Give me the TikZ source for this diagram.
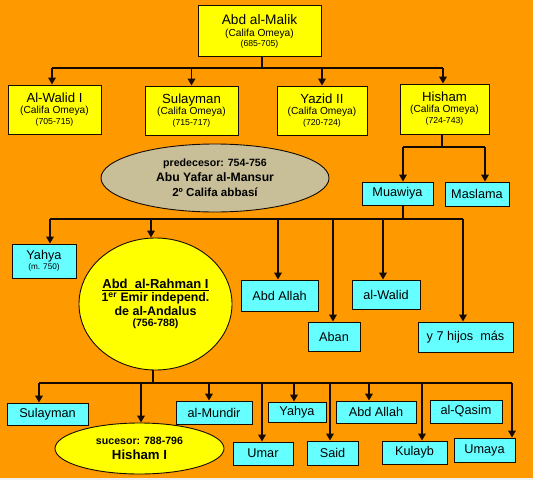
\documentclass[tikz,border=0pt]{standalone}
\usepackage{fontspec}
\setmainfont{Liberation Sans}
\usetikzlibrary{arrows.meta,shapes.geometric}
\definecolor{bgorange}{RGB}{255,153,0}
\definecolor{yel}{RGB}{255,255,0}
\definecolor{cyanc}{RGB}{102,255,255}
\definecolor{tanc}{RGB}{200,190,152}
\definecolor{linec}{RGB}{20,10,0}
\newcommand\fsz[1]{\fontsize{#1}{#1}\selectfont}
\newcommand\stk[2]{\vbox{\baselineskip=#1\lineskiplimit=-100pt\halign{\hfil##\hfil\cr#2\crcr}}}
\begin{document}
\begin{tikzpicture}[x=1pt,y=-1pt,
  ybox/.style={draw=linec,fill=yel,line width=0.9pt,inner sep=1pt},
  cbox/.style={draw=linec,fill=cyanc,line width=0.9pt,inner sep=1pt,font=\fsz{12.7}},
  ell/.style={ellipse,draw=linec,line width=0.9pt,inner sep=0pt,font=\bfseries},
  conn/.style={draw=linec,line width=1.9pt},
  arr/.style={conn,-{Triangle[length=7pt,width=7.5pt]}}]
\useasboundingbox (0,0) rectangle (533,480);
\fill[bgorange] (0,0) rectangle (533,480);
\fill[black!6] (0,478) rectangle (533,480);

% level 0 / 1
\node[ybox,minimum width=123pt,minimum height=51pt] (malik) at (259.5,31)
  {\stk{12pt}{\fsz{13.7}Abd al-Malik\cr\fsz{10.2}(Califa Omeya)\cr\noalign{\vskip-2pt}\fsz{8.7}(685-705)}};
\node[ybox,minimum width=93pt,minimum height=49pt] (walid) at (54.5,109.5)
  {\stk{11pt}{\fsz{13.2}Al-Walid I\cr\fsz{10.2}(Califa Omeya)\cr\fsz{8.7}(705-715)}};
\node[ybox,minimum width=93pt,minimum height=49pt] (sulay) at (191.5,110.5)
  {\stk{11pt}{\fsz{13.2}Sulayman\cr\fsz{10.2}(Califa Omeya)\cr\fsz{8.7}(715-717)}};
\node[ybox,minimum width=90pt,minimum height=49pt] (yazid) at (322,110.5)
  {\stk{11pt}{\fsz{13.2}Yazid II\cr\fsz{10.2}(Califa Omeya)\cr\fsz{8.7}(720-724)}};
\node[ybox,minimum width=89pt,minimum height=50pt] (hisham) at (444.5,109)
  {\stk{11pt}{\fsz{13.2}Hisham\cr\fsz{10.2}(Califa Omeya)\cr\fsz{8.7}(724-743)}};

\node[ell,fill=tanc,minimum width=228pt,minimum height=68pt] (pred) at (215,178)
  {\stk{15pt}{\fsz{10.6}predecesor: 754-756\cr\fsz{12.2}Abu Yafar al-Mansur\cr\fsz{11.6}2º Califa abbasí}};

\node[cbox,minimum width=71pt,minimum height=23pt] (mua) at (397.5,193.5) {Muawiya};
\node[cbox,minimum width=64pt,minimum height=24pt] (masl) at (477,194) {Maslama};

% level 3
\node[cbox,minimum width=64pt,minimum height=34pt] (yahya1) at (44,261)
  {\stk{10pt}{\fsz{12.7}Yahya\cr\fsz{8.2}(m. 750)}};
\node[ell,fill=yel,minimum width=153pt,minimum height=132pt] (rahman) at (155.5,304)
  {\stk{13.5pt}{\fsz{13}\underline{Abd\ \ al-Rahman I}\cr\fsz{12.3}1\textsuperscript{er} Emir independ.\cr\fsz{12.5}de al-Andalus\cr\noalign{\vskip-1.8pt}\fsz{10.6}(756-788)}};
\node[cbox,minimum width=77pt,minimum height=31pt] (abdallah1) at (279.5,295.5) {Abd Allah};
\node[cbox,minimum width=52pt,minimum height=29pt] (aban) at (334,336.5) {Aban};
\node[cbox,minimum width=68pt,minimum height=29pt] (walid2) at (386,294.5) {al-Walid};
\node[cbox,minimum width=95pt,minimum height=30pt] (hijos) at (465.5,337) {y 7 hijos\ \ más};

% level 4
\node[cbox,minimum width=81pt,minimum height=22pt] (sulay2) at (47.5,414) {Sulayman};
\node[ell,fill=yel,minimum width=169pt,minimum height=51pt] (hishamI) at (139.5,448.5)
  {\stk{14.5pt}{\fsz{10.6}sucesor: 788-796\cr\fsz{13.2}Hisham I}};
\node[cbox,minimum width=76pt,minimum height=23pt] (mundir) at (214,412.5) {al-Mundir};
\node[cbox,minimum width=60pt,minimum height=23pt] (umar) at (263,453.5) {Umar};
\node[cbox,minimum width=58pt,minimum height=20pt] (yahya2) at (297,412) {Yahya};
\node[cbox,minimum width=51pt,minimum height=24pt] (said) at (332.5,453) {Said};
\node[cbox,minimum width=80pt,minimum height=22pt] (abdallah2) at (376,412) {Abd Allah};
\node[cbox,minimum width=72pt,minimum height=23pt] (qasim) at (466,411.5) {al-Qasim};
\node[cbox,minimum width=65pt,minimum height=23pt] (kulayb) at (414.5,452.5) {Kulayb};
\node[cbox,minimum width=61pt,minimum height=24pt] (umaya) at (484.5,450) {Umaya};

% connectors: Abd al-Malik
\coordinate (b0) at (262,68);
\coordinate (b0L) at (52,68);
\coordinate (b0R) at (443,68);
\draw[conn] (b0 |- malik.south) -- (b0);
\draw[conn] (b0L) -- (b0R);
\draw[arr] (b0L) -- (b0L |- walid.north);
\draw[arr] (sulay.north |- b0) -- (sulay.north);
\draw[arr] (yazid.north |- b0) -- (yazid.north);
\draw[arr] (b0R) -- (b0R |- hisham.north);

% Hisham
\coordinate (h0) at (442,147);
\coordinate (hL) at (403,147);
\coordinate (hR) at (485,147);
\draw[conn] (h0 |- hisham.south) -- (h0);
\draw[conn] (hL) -- (hR);
\draw[arr] (hL) -- (hL |- mua.north);
\draw[arr] (hR) -- (hR |- masl.north);

% Muawiya
\coordinate (m0) at (403,219);
\coordinate (m1) at (50,219);
\coordinate (m2) at (151,219);
\coordinate (m3) at (278,219);
\coordinate (m4) at (333,219);
\coordinate (m5) at (383,219);
\coordinate (m6) at (463,219);
\draw[conn] (m0 |- mua.south) -- (m0);
\draw[conn] (m1) -- (m6);
\draw[arr] (m1) -- (m1 |- yahya1.north);
\draw[arr] (m2) -- (m2 |- rahman.north);
\draw[arr] (m3) -- (m3 |- abdallah1.north);
\draw[arr] (m4) -- (m4 |- aban.north);
\draw[arr] (m5) -- (m5 |- walid2.north);
\draw[arr] (m6) -- (m6 |- hijos.north);

% Abd al-Rahman I
\coordinate (r0) at (153,383);
\coordinate (r1) at (39,383);
\coordinate (r2) at (141,383);
\coordinate (r3) at (209,383);
\coordinate (r4) at (262,383);
\coordinate (r5) at (294,383);
\coordinate (r6) at (330,383);
\coordinate (r7) at (369,383);
\coordinate (r8) at (422,383);
\coordinate (r9) at (512,383);
\draw[conn] (r0 |- rahman.south) -- (r0);
\draw[conn] (r1) -- (r9);
\draw[arr] (r1) -- (r1 |- sulay2.north);
\draw[arr] (r2) -- (r2 |- hishamI.north);
\draw[arr] (r3) -- (r3 |- mundir.north);
\draw[arr] (r4) -- (r4 |- umar.north);
\draw[arr] (r5) -- (r5 |- yahya2.north);
\draw[arr] (r6) -- (r6 |- said.north);
\draw[arr] (r7) -- (r7 |- abdallah2.north);
\draw[arr] (r8) -- (r8 |- kulayb.north);
\draw[arr] (r9) -- (r9 |- umaya.north);
\end{tikzpicture}
\end{document}
